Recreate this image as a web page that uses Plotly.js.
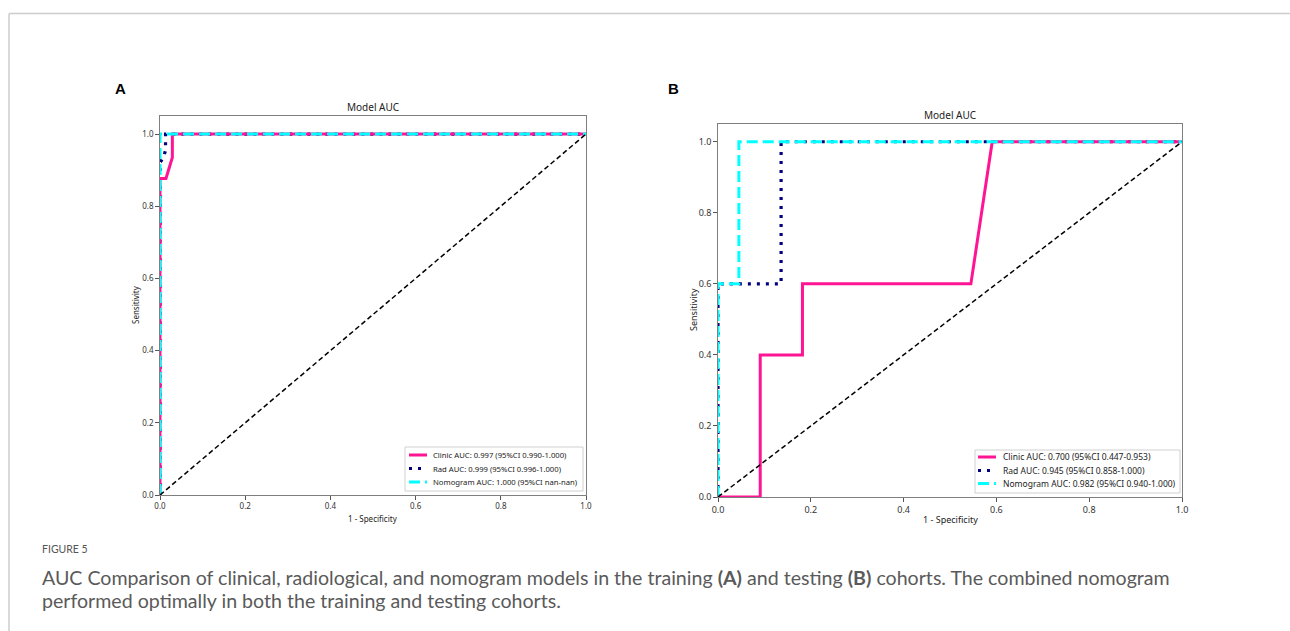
<!DOCTYPE html>
<html>
<head>
<meta charset="utf-8">
<script src="https://cdn.plot.ly/plotly-3.0.1.min.js"></script>
<style>
  html, body { margin: 0; padding: 0; background: #fff; }
  #chart { width: 1290px; height: 631px; }
</style>
</head>
<body>
<div id="chart"></div>
<script>
// ROC curves: false positive rate (1 - specificity) vs sensitivity

// Training cohort (A)
const trainClinicFpr = [0, 0, 0.014, 0.029, 0.029, 1];
const trainClinicTpr = [0, 0.877, 0.877, 0.935, 1, 1];
const trainRadFpr = [0, 0, 0.009, 0.013, 0.013, 1];
const trainRadTpr = [0, 0.92, 0.939, 0.955, 1, 1];
const trainNomoFpr = [0, 0, 1];
const trainNomoTpr = [0, 1, 1];

// Testing cohort (B)
const testClinicFpr = [0, 0.091, 0.091, 0.182, 0.182, 0.545, 0.591, 1];
const testClinicTpr = [0, 0, 0.4, 0.4, 0.6, 0.6, 1, 1];
const testRadFpr = [0, 0, 0.136, 0.136, 1];
const testRadTpr = [0, 0.6, 0.6, 1, 1];
const testNomoFpr = [0, 0, 0.045, 0.045, 1];
const testNomoTpr = [0, 0.6, 0.6, 1, 1];

// Chance line
const chanceX = [0, 1];
const chanceY = [0, 1];

const trainLabels = [
  'Clinic AUC: 0.997 (95%CI 0.990-1.000)',
  'Rad AUC: 0.999 (95%CI 0.996-1.000)',
  'Nomogram AUC: 1.000 (95%CI nan-nan)'
];
const testLabels = [
  'Clinic AUC: 0.700 (95%CI 0.447-0.953)',
  'Rad AUC: 0.945 (95%CI 0.858-1.000)',
  'Nomogram AUC: 0.982 (95%CI 0.940-1.000)'
];
const tickVals = [0, 0.2, 0.4, 0.6, 0.8, 1.0];

const W = 1290, H = 631;
const px = v => v / W;
const py = v => 1 - v / H;

const font = 'Noto Sans, DejaVu Sans, sans-serif';
const capFont = 'Lato, Open Sans, sans-serif';

// line styles: clinic, rad, nomogram
const STYLES = [
  {color: '#ff1493', width: 3, dash: 'solid'},
  {color: '#000080', width: 3.2, dash: '3px,6px'},
  {color: '#00ffff', width: 3, dash: '11px,5px'}
];
// drawing order: rad under clinic, nomogram on top
const DRAW_ORDER = [1, 0, 2];

function rocTraces(xa, ya, fprs, tprs, labels) {
  const traces = DRAW_ORDER.map(i => ({
    x: fprs[i], y: tprs[i], type: 'scatter', mode: 'lines',
    xaxis: xa, yaxis: ya, name: labels[i], line: STYLES[i], showlegend: false
  }));
  traces.push({
    x: chanceX, y: chanceY, type: 'scatter', mode: 'lines',
    xaxis: xa, yaxis: ya, showlegend: false,
    line: {color: '#000', width: 1.5, dash: '5px,3px'}
  });
  return traces;
}

const data = [
  ...rocTraces('x', 'y',
    [trainClinicFpr, trainRadFpr, trainNomoFpr],
    [trainClinicTpr, trainRadTpr, trainNomoTpr], trainLabels),
  ...rocTraces('x2', 'y2',
    [testClinicFpr, testRadFpr, testNomoFpr],
    [testClinicTpr, testRadTpr, testNomoTpr], testLabels)
];

function axis(domain, range, anchor, fs) {
  return {
    domain: domain, range: range, anchor: anchor,
    tickvals: tickVals, tickformat: '.1f',
    showline: true, mirror: true, linecolor: '#7f7f7f', linewidth: 1.3,
    ticks: 'outside', ticklen: 3.5, tickcolor: '#555', tickwidth: 1,
    showgrid: false, zeroline: false, layer: 'below traces',
    tickfont: {family: font, size: fs, color: '#333'},
    fixedrange: true
  };
}

// Legend box drawn in page pixels: box edges, row centres, sample and text x
function legendBox(box, rows, sx0, sx1, tx, labels, fs) {
  const shapes = [{
    type: 'rect', xref: 'paper', yref: 'paper',
    x0: px(box[0]), x1: px(box[1]), y0: py(box[3]), y1: py(box[2]),
    fillcolor: 'rgba(255,255,255,0.9)', line: {color: '#d0d0d0', width: 1}
  }];
  const notes = [];
  labels.forEach((lab, i) => {
    shapes.push({
      type: 'line', xref: 'paper', yref: 'paper',
      x0: px(sx0), x1: px(sx1), y0: py(rows[i]), y1: py(rows[i]),
      line: {color: STYLES[i].color, width: STYLES[i].width, dash: STYLES[i].dash}
    });
    notes.push({
      text: lab, xref: 'paper', yref: 'paper', x: px(tx), y: py(rows[i]),
      xanchor: 'left', yanchor: 'middle', showarrow: false,
      font: {family: font, size: fs, color: '#222'}
    });
  });
  return {shapes, notes};
}

const legA = legendBox([405, 583, 447, 491], [455, 468.5, 482], 409, 427, 431, trainLabels, 7.7);
const legB = legendBox([975, 1180, 450, 493], [457, 470.5, 483.5], 978, 996, 1001, testLabels, 8.5);

function note(text, x, y, size, extra) {
  return Object.assign({
    text: text, xref: 'paper', yref: 'paper', x: px(x), y: py(y),
    xanchor: 'center', yanchor: 'middle', showarrow: false,
    font: {family: font, size: size, color: '#222'}
  }, extra || {});
}

const layout = {
  width: W, height: H,
  margin: {l: 0, r: 0, t: 0, b: 0},
  paper_bgcolor: '#fff', plot_bgcolor: 'rgba(0,0,0,0)',
  showlegend: false,
  xaxis: axis([px(160), px(586)], [0, 1], 'y', 8),
  yaxis: axis([py(495), py(116)], [0, 1.05], 'x', 8),
  xaxis2: axis([px(718), px(1182)], [0, 1], 'y2', 9),
  yaxis2: axis([py(497), py(124)], [0, 1.05], 'x2', 9),
  shapes: [
    {type: 'line', xref: 'paper', yref: 'paper', x0: px(9), x1: 1, y0: py(13.5), y1: py(13.5),
     line: {color: '#cccccc', width: 1.5}},
    {type: 'line', xref: 'paper', yref: 'paper', x0: px(9), x1: px(9), y0: py(13.5), y1: 0,
     line: {color: '#cccccc', width: 1.5}},
    ...legA.shapes, ...legB.shapes
  ],
  annotations: [
    note('<b>A</b>', 120, 89, 15, {font: {family: 'Liberation Sans, Arial, sans-serif', size: 15, color: '#000'}}),
    note('<b>B</b>', 673, 89, 15, {font: {family: 'Liberation Sans, Arial, sans-serif', size: 15, color: '#000'}}),
    note('Model AUC', 373, 107, 10),
    note('Model AUC', 950, 115, 10),
    note('Sensitivity', 135, 305, 8, {textangle: -90}),
    note('1 - Specificity', 373, 518, 8),
    note('Sensitivity', 693, 310, 9, {textangle: -90}),
    note('1 - Specificity', 950, 519, 9),
    ...legA.notes, ...legB.notes,
    note('FIGURE 5', 40, 549, 10.5, {xanchor: 'left', font: {family: capFont, size: 10.5, color: '#555'}}),
    note('AUC Comparison of clinical, radiological, and nomogram models in the training <b>(A)</b> and testing <b>(B)</b> cohorts. The combined nomogram',
      40, 577, 19.6, {xanchor: 'left', font: {family: capFont, size: 19.6, color: '#5a5a5a'}}),
    note('performed optimally in both the training and testing cohorts.',
      40, 600, 19.6, {xanchor: 'left', font: {family: capFont, size: 19.6, color: '#5a5a5a'}})
  ]
};

Plotly.newPlot('chart', data, layout, {displayModeBar: false, staticPlot: true});
</script>
</body>
</html>
